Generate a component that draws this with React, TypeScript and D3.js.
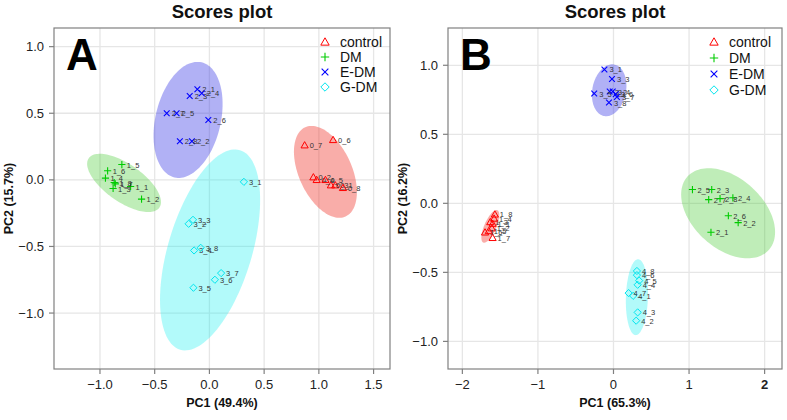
import React from "react";
import * as d3 from "d3";

// ---------- data ----------
const groups = ["control", "DM", "E-DM", "G-DM"];
const groupColors = ["#ff0000", "#00cc00", "#0000ff", "#00e5ee"];
const groupFills = ["rgba(240,60,50,0.42)", "rgba(60,200,40,0.33)", "rgba(60,60,230,0.4)", "rgba(0,240,240,0.3)"];

// Panel A points [x, y, label]
const aControl: [number, number, string][] = [
  [1.15, -0.04, "0_1"], [0.95, 0.02, "0_2"], [1.11, -0.04, "0_3"], [0.98, 0.0, "0_4"],
  [1.06, 0.0, "0_5"], [1.13, 0.3, "0_6"], [0.87, 0.26, "0_7"], [1.22, -0.06, "0_8"],
];
const aDM: [number, number, string][] = [
  [-0.72, -0.05, "1_1"], [-0.62, -0.145, "1_2"], [-0.88, -0.065, "1_3"], [-0.95, 0.013, "1_4"],
  [-0.8, 0.115, "1_5"], [-0.93, 0.068, "1_6"], [-0.86, -0.03, "1_7"], [-0.87, -0.02, "1_8"],
];
const aEDM: [number, number, string][] = [
  [-0.11, 0.68, "2_1"], [-0.16, 0.29, "2_2"], [-0.18, 0.63, "2_3"], [-0.07, 0.65, "2_4"],
  [-0.3, 0.5, "2_5"], [-0.01, 0.45, "2_6"], [-0.39, 0.5, "2_7"], [-0.27, 0.29, "2_8"],
];
const aGDM: [number, number, string][] = [
  [0.315, -0.015, "3_1"], [-0.19, -0.33, "3_2"], [-0.15, -0.3, "3_3"], [-0.14, -0.53, "3_4"],
  [-0.146, -0.81, "3_5"], [0.05, -0.75, "3_6"], [0.107, -0.7, "3_7"], [-0.08, -0.51, "3_8"],
];

// Panel B points
const bControl: [number, number, string][] = [
  [-1.6, -0.147, "1_1"], [-1.61, -0.18, "1_2"], [-1.63, -0.135, "1_3"], [-1.58, -0.11, "1_4"],
  [-1.65, -0.2, "1_5"], [-1.7, -0.21, "1_6"], [-1.6, -0.25, "1_7"], [-1.57, -0.08, "1_8"],
];
const bDM: [number, number, string][] = [
  [1.29, -0.21, "2_1"], [1.65, -0.14, "2_2"], [1.3, 0.1, "2_3"], [1.58, 0.04, "2_4"],
  [1.045, 0.1, "2_5"], [1.52, -0.09, "2_6"], [1.26, 0.027, "2_7"], [1.41, 0.034, "2_8"],
];
const bEDM: [number, number, string][] = [
  [-0.12, 0.97, "3_1"], [-0.05, 0.81, "3_2"], [-0.02, 0.9, "3_3"], [-0.01, 0.81, "3_4"],
  [-0.255, 0.795, "3_5"], [0.03, 0.79, "3_6"], [0.045, 0.77, "3_7"], [-0.06, 0.73, "3_8"],
];
const bGDM: [number, number, string][] = [
  [0.26, -0.67, "4_1"], [0.3, -0.85, "4_2"], [0.32, -0.79, "4_3"], [0.32, -0.59, "4_4"],
  [0.34, -0.56, "4_5"], [0.31, -0.52, "4_6"], [0.2, -0.65, "4_7"], [0.31, -0.49, "4_8"],
];

// Confidence ellipses: centre and two semi-axis vectors (data units)
const aEllipses = [
  { cx: 1.06, cy: 0.06, ux: 0.184, uy: -0.335, vx: 0.221, vy: 0.082 },
  { cx: -0.78, cy: -0.023, ux: 0.322, uy: -0.186, vx: -0.1, vy: -0.115 },
  { cx: -0.195, cy: 0.45, ux: 0.124, uy: 0.432, vx: 0.29, vy: -0.056 },
  { cx: 0.006, cy: -0.526, ux: 0.273, uy: 0.749, vx: 0.367, vy: -0.09 },
];
const bEllipses = [
  { cx: -1.63, cy: -0.167, ux: 0.093, uy: 0.117, vx: 0.073, vy: -0.017 },
  { cx: 1.517, cy: -0.072, ux: 0.538, uy: -0.266, vx: -0.311, vy: -0.189 },
  { cx: -0.057, cy: 0.819, ux: 0.04, uy: 0.188, vx: 0.225, vy: 0 },
  { cx: 0.31, cy: -0.68, ux: 0.015, uy: 0.275, vx: 0.146, vy: 0 },
];

const aXTicks = [-1.0, -0.5, 0.0, 0.5, 1.0, 1.5];
const aYTicks = [-1.0, -0.5, 0.0, 0.5, 1.0];
const bXTicks = [-2, -1, 0, 1, 2];
const bYTicks = [-1.0, -0.5, 0.0, 0.5, 1.0];

const aXDomain: [number, number] = [-1.42, 1.65];
const aYDomain: [number, number] = [-1.42, 1.14];
const bXDomain: [number, number] = [-2.19, 2.23];
const bYDomain: [number, number] = [-1.2, 1.27];

const FONT = "'Liberation Sans', Arial, Helvetica, sans-serif";

function Symbol({ g, x, y, s = 3.6 }: { g: number; x: number; y: number; s?: number }) {
  const c = groupColors[g];
  if (g === 0) {
    const p = `M${x},${y - s}L${x + s},${y + s * 0.75}L${x - s},${y + s * 0.75}Z`;
    return <path d={p} fill="none" stroke={c} strokeWidth={1} />;
  }
  if (g === 1) {
    return <path d={`M${x - s},${y}H${x + s}M${x},${y - s}V${y + s}`} stroke={c} strokeWidth={1.1} fill="none" />;
  }
  if (g === 2) {
    const k = s * 0.8;
    return <path d={`M${x - k},${y - k}L${x + k},${y + k}M${x - k},${y + k}L${x + k},${y - k}`} stroke={c} strokeWidth={1.1} fill="none" />;
  }
  return <path d={`M${x},${y - s}L${x + s},${y}L${x},${y + s}L${x - s},${y}Z`} stroke={c} strokeWidth={1} fill="none" />;
}

type Pt = [number, number, string];
type Ell = { cx: number; cy: number; ux: number; uy: number; vx: number; vy: number };

function Panel(props: {
  left: number; right: number; top: number; bottom: number;
  xDomain: [number, number]; yDomain: [number, number];
  xTicks: number[]; yTicks: number[]; xFmt: (v: number) => string; boldX?: number;
  series: Pt[][]; ellipses: Ell[]; letter: string; xLabel: string; yLabel: string;
  legendX: number; legendY: number; legendStep: number;
}) {
  const { left, right, top, bottom } = props;
  const xs = d3.scaleLinear().domain(props.xDomain).range([left, right]);
  const ys = d3.scaleLinear().domain(props.yDomain).range([bottom, top]);
  const ts = d3.range(0, 2 * Math.PI + 0.001, Math.PI / 60);
  const cx = (left + right) / 2;
  const cy = (top + bottom) / 2;
  return (
    <g fontFamily={FONT}>
      <text x={cx} y={18} textAnchor="middle" fontSize={18.5} fontWeight="bold" fill="#111">Scores plot</text>
      {props.xTicks.map((t) => (
        <line key={"gx" + t} x1={xs(t)} x2={xs(t)} y1={top} y2={bottom} stroke="#e6e6e6" strokeWidth={1.3} />
      ))}
      {props.yTicks.map((t) => (
        <line key={"gy" + t} x1={left} x2={right} y1={ys(t)} y2={ys(t)} stroke="#e6e6e6" strokeWidth={1.3} />
      ))}
      {props.ellipses.map((e, i) => {
        const line = d3.line<number>()
          .x((t) => xs(e.cx + Math.cos(t) * e.ux + Math.sin(t) * e.vx))
          .y((t) => ys(e.cy + Math.cos(t) * e.uy + Math.sin(t) * e.vy));
        return <path key={"e" + i} d={line(ts) || ""} fill={groupFills[i]} stroke="none" />;
      })}
      {props.series.map((s, g) =>
        s.map((p, j) => (
          <g key={g + "-" + j}>
            <Symbol g={g} x={xs(p[0])} y={ys(p[1])} />
            <text x={xs(p[0]) + 5} y={ys(p[1]) + 3} fontSize={7.5} fill="#333">{p[2]}</text>
          </g>
        ))
      )}
      <rect x={left} y={top} width={right - left} height={bottom - top} fill="none" stroke="#808080" strokeWidth={1.2} />
      {props.xTicks.map((t) => (
        <g key={"tx" + t}>
          <line x1={xs(t)} x2={xs(t)} y1={bottom} y2={bottom + 5} stroke="#808080" strokeWidth={1.2} />
          <text x={xs(t)} y={bottom + 20} textAnchor="middle" fontSize={13} fill="#222"
            fontWeight={props.boldX === t ? "bold" : "normal"}>{props.xFmt(t)}</text>
        </g>
      ))}
      {props.yTicks.map((t) => (
        <g key={"ty" + t}>
          <line x1={left - 5} x2={left} y1={ys(t)} y2={ys(t)} stroke="#808080" strokeWidth={1.2} />
          <text x={left - 10} y={ys(t) + 4.5} textAnchor="end" fontSize={13} fill="#222">{d3.format(".1f")(t)}</text>
        </g>
      ))}
      <text x={cx} y={bottom + 38} textAnchor="middle" fontSize={12.5} fontWeight="bold" fill="#111">{props.xLabel}</text>
      <text transform={`translate(${left - 41},${cy}) rotate(-90)`} textAnchor="middle" fontSize={12.5} fontWeight="bold" fill="#111">{props.yLabel}</text>
      <text x={left + 12} y={top + 42} fontSize={44} fontWeight="bold" fill="#000">{props.letter}</text>
      {groups.map((g, i) => (
        <g key={"lg" + g}>
          <Symbol g={i} x={props.legendX} y={props.legendY + i * props.legendStep} s={4.2} />
          <text x={props.legendX + 15} y={props.legendY + i * props.legendStep + 5} fontSize={14} fill="#111">{g}</text>
        </g>
      ))}
    </g>
  );
}

export default function App() {
  return (
    <svg width={787} height={420} style={{ position: "absolute", left: 0, top: 0, background: "#fff" }}>
      <Panel left={54} right={390} top={28} bottom={369}
        xDomain={aXDomain} yDomain={aYDomain} xTicks={aXTicks} yTicks={aYTicks}
        xFmt={d3.format(".1f")} series={[aControl, aDM, aEDM, aGDM]} ellipses={aEllipses}
        letter="A" xLabel="PC1 (49.4%)" yLabel="PC2 (15.7%)" legendX={325} legendY={42} legendStep={15} />
      <Panel left={448} right={782} top={28} bottom={369}
        xDomain={bXDomain} yDomain={bYDomain} xTicks={bXTicks} yTicks={bYTicks}
        xFmt={d3.format("d")} boldX={2} series={[bControl, bDM, bEDM, bGDM]} ellipses={bEllipses}
        letter="B" xLabel="PC1 (65.3%)" yLabel="PC2 (16.2%)" legendX={714} legendY={42} legendStep={16} />
    </svg>
  );
}
